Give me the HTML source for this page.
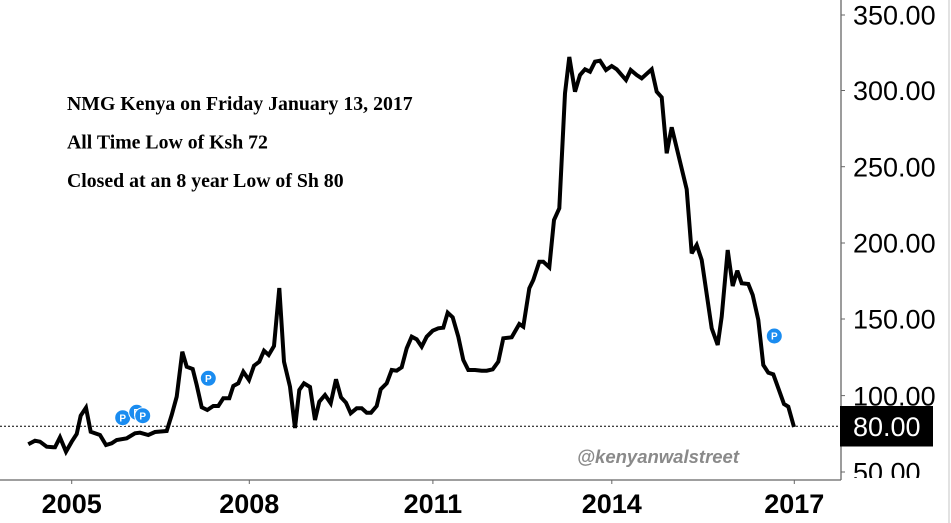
<!DOCTYPE html>
<html>
<head>
<meta charset="utf-8">
<style>
  html,body{margin:0;padding:0;background:#fff;}
  svg{display:block;}
</style>
</head>
<body>
<svg width="951" height="523" viewBox="0 0 951 523" xmlns="http://www.w3.org/2000/svg">
  <rect x="0" y="0" width="951" height="523" fill="#fff"/>
  <defs>
    <clipPath id="ylab"><rect x="842" y="0" width="106" height="478"/></clipPath>
  </defs>

  <!-- right light border -->
  <line x1="949" y1="0" x2="949" y2="523" stroke="#d8d8d8" stroke-width="1.5"/>

  <!-- axes -->
  <line x1="841" y1="0" x2="841" y2="480" stroke="#666" stroke-width="1.3"/>
  <line x1="0" y1="480" x2="841" y2="480" stroke="#666" stroke-width="1.3"/>

  <!-- y ticks -->
  <g stroke="#666" stroke-width="1">
    <line x1="841" y1="15" x2="845" y2="15"/>
    <line x1="841" y1="90.5" x2="845" y2="90.5"/>
    <line x1="841" y1="166.7" x2="845" y2="166.7"/>
    <line x1="841" y1="243" x2="845" y2="243"/>
    <line x1="841" y1="319" x2="845" y2="319"/>
    <line x1="841" y1="395.6" x2="845" y2="395.6"/>
    <line x1="841" y1="472" x2="845" y2="472"/>
  </g>
  <!-- x ticks -->
  <g stroke="#666" stroke-width="1">
    <line x1="71.7" y1="480" x2="71.7" y2="484"/>
    <line x1="249.3" y1="480" x2="249.3" y2="484"/>
    <line x1="432.9" y1="480" x2="432.9" y2="484"/>
    <line x1="611.8" y1="480" x2="611.8" y2="484"/>
    <line x1="794.3" y1="480" x2="794.3" y2="484"/>
  </g>

  <!-- y labels -->
  <g clip-path="url(#ylab)" font-family="Liberation Sans, Arial, sans-serif" font-size="27" fill="#000">
    <text x="853" y="24.7">350.00</text>
    <text x="853" y="100.2">300.00</text>
    <text x="853" y="176.4">250.00</text>
    <text x="853" y="252.7">200.00</text>
    <text x="853" y="328.7">150.00</text>
    <text x="853" y="405.3">100.00</text>
    <text x="853" y="481.7">50.00</text>
  </g>

  <!-- x labels -->
  <g font-family="Liberation Sans, Arial, sans-serif" font-size="27" font-weight="bold" fill="#000" text-anchor="middle">
    <text x="71.7" y="513">2005</text>
    <text x="249.3" y="513">2008</text>
    <text x="432.9" y="513">2011</text>
    <text x="611.8" y="513">2014</text>
    <text x="794.3" y="513">2017</text>
  </g>

  <!-- dotted reference line -->
  <line x1="0" y1="426.3" x2="841" y2="426.3" stroke="#000" stroke-width="1" stroke-dasharray="2,2"/>

  <!-- current value box -->
  <rect x="840" y="406" width="93" height="40.5" fill="#000"/>
  <text x="853" y="436" font-family="Liberation Sans, Arial, sans-serif" font-size="27" fill="#fff">80.00</text>

  <!-- annotations -->
  <g font-family="Liberation Serif, Times New Roman, serif" font-size="19.8" font-weight="bold" fill="#000">
    <text x="67" y="110">NMG Kenya on Friday January 13, 2017</text>
    <text x="67" y="148.5">All Time Low of Ksh 72</text>
    <text x="67" y="187">Closed at an 8 year Low of Sh 80</text>
  </g>

  <!-- watermark -->
  <text x="577" y="463" font-family="Liberation Sans, Arial, sans-serif" font-size="18.5" font-weight="bold" font-style="italic" fill="#8a8a8a">@kenyanwalstreet</text>

  <!-- price line -->
  <polyline fill="none" stroke="#000" stroke-width="4" stroke-linejoin="miter" stroke-miterlimit="3" stroke-linecap="butt"
    points="28.3,444.3 35,440.7 40,441.7 46.7,446.7 53.3,447.3 55,447.3 60,437.3 66,451.7 71.7,441.7 76.7,434 80.7,415.7 86,407.7 90.7,431.7 100,435 106,445 111.7,443.3 116.7,440 126.7,438.3 135,433.3 140,432.7 148.3,435 155,432 166.7,431 171.7,415 176.7,396.7 182.3,351.7 186.7,366.7 192.7,369 196.7,385 201.7,407.3 207.3,410 213.3,406 218.3,406 223.3,398.3 229.3,398.3 233.3,386 238.3,383.3 243.3,371.7 249,380 254,365.7 259.3,361.7 264,350.7 268.7,355 274,346 279.3,288 284,361.7 290,386.7 295,428 299.3,390 304,383.3 310,387 315,420 319.3,401.7 325,395 330.7,403.3 336,379.3 341,397.3 346,402.7 350.7,413.3 356.7,408.3 361.7,408.3 366.7,412.7 371,412.7 376.7,406 380.7,389.3 386.7,383.3 391.7,370 396.7,370.7 401.7,367.3 406.7,348.3 411.7,336.7 416.7,339.3 421.7,346.7 426.7,336.7 432.7,330.7 438.3,328.3 443.3,327.7 447.7,312.7 452.7,317.3 458.3,336.7 463.3,360 468.3,370 475,370 481.7,370.7 486.7,370.7 492.7,369.3 498.3,361.7 503.3,338.3 511.7,337.3 519.3,324 523.3,326.7 529.3,288.3 533.3,280 539.3,261.7 543.3,261.7 549.3,267.3 554,220 559.3,208.3 565,93.3 569.3,57 575,91.7 580,75 585,69.3 590,71.7 595,61.7 600,60.7 606,70 611.7,66 616.7,69.3 626,80 630.7,70 636.7,75 641.7,78.3 651.7,69.3 656.7,91.7 661.7,97.3 666.7,153.3 671.7,127.3 686.7,189.3 691.7,253.3 696.7,245 701.7,260 711.7,328.3 717.7,345 721.7,316.7 727.7,250 732.7,286 737.3,270.7 741.7,283.3 748.3,284 752.7,295 758.3,320 763.3,365 768.3,372.7 773.3,374.3 784,404 788.3,406.7 794,427"/>

  <!-- P markers -->
  <g font-family="Liberation Sans, Arial, sans-serif" font-size="10" font-weight="bold" fill="#fff" text-anchor="middle">
    <circle cx="122.7" cy="417.7" r="8" fill="#1a8cf0" stroke="#fff" stroke-width="1"/>
    <text x="122.7" y="421.3">P</text>
    <circle cx="136.7" cy="412.3" r="8" fill="#1a8cf0" stroke="#fff" stroke-width="1"/>
    <text x="136.7" y="415.9">P</text>
    <circle cx="142.7" cy="415.7" r="8" fill="#1a8cf0" stroke="#fff" stroke-width="1"/>
    <text x="142.7" y="419.3">P</text>
    <circle cx="208.3" cy="378.3" r="8" fill="#1a8cf0" stroke="#fff" stroke-width="1"/>
    <text x="208.3" y="381.9">P</text>
    <circle cx="774.3" cy="336" r="8" fill="#1a8cf0" stroke="#fff" stroke-width="1"/>
    <text x="774.3" y="339.6">P</text>
  </g>
</svg>
</body>
</html>
